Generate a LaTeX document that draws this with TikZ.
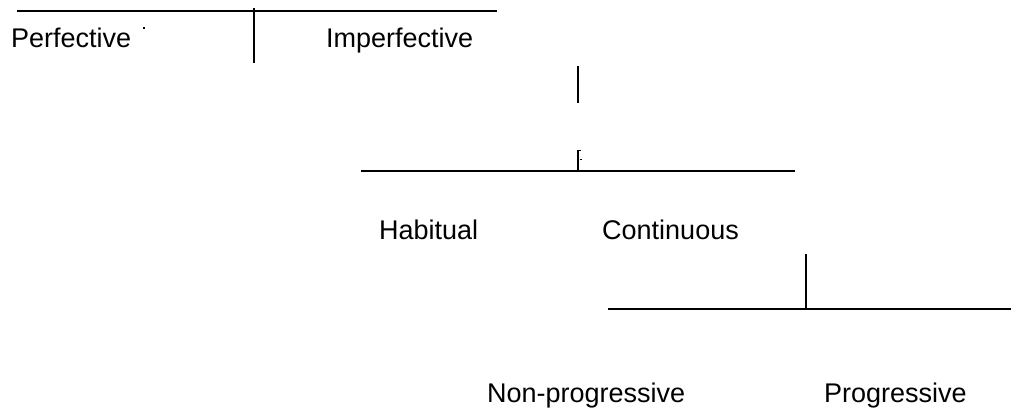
\documentclass[tikz,border=0pt]{standalone}
\usepackage{fontspec}
\setmainfont{Liberation Sans}
\tikzset{
  lbl/.style={inner sep=0pt, anchor=base west, font=\fontsize{27}{30}\selectfont},
  ln/.style={line width=1.6pt, black},
  tick/.style={line width=1.4pt, black}
}
\begin{document}
\begin{tikzpicture}[x=1pt,y=-1pt]
\useasboundingbox (0,0) rectangle (1011,408);
% labels
\node[lbl] (perf) at (11,47) {Perfective};
\node[lbl] (imperf) at (326,47) {Imperfective};
\node[lbl] (hab) at (379,239) {Habitual};
\node[lbl] (cont) at (602,239) {Continuous};
\node[lbl] (nonprog) at (487,402) {Non-progressive};
\node[lbl] (prog) at (824,402) {Progressive};
% stray mark after Perfective
\fill (143,27) rectangle (145,29);
% coordinates
\coordinate (t1l) at (17,11);
\coordinate (t1r) at (497,11);
\coordinate (v1t) at (254,8);
\coordinate (v1b) at (254,63);
\coordinate (v2t) at (578,66);
\coordinate (v2b) at (578,103);
\coordinate (v3t) at (578,150);
\coordinate (v3b) at (578,171);
\coordinate (h2l) at (361,171);
\coordinate (h2r) at (795,171);
\coordinate (v4t) at (806,254);
\coordinate (v4b) at (806,309);
\coordinate (h3l) at (608,309);
\coordinate (h3r) at (1011,309);
% lines
\draw[ln] (t1l) -- (t1r);
\draw[ln] (v1t) -- (v1b);
\draw[ln] (v2t) -- (v2b);
\draw[ln] (v3t) -- (v3b);
\draw[tick] (578,150.7) -- (581,150.7);
\fill (580,158.5) rectangle (581.5,160);
\draw[ln] (h2l) -- (h2r);
\draw[ln] (v4t) -- (v4b);
\draw[ln] (h3l) -- (h3r);
\end{tikzpicture}
\end{document}
